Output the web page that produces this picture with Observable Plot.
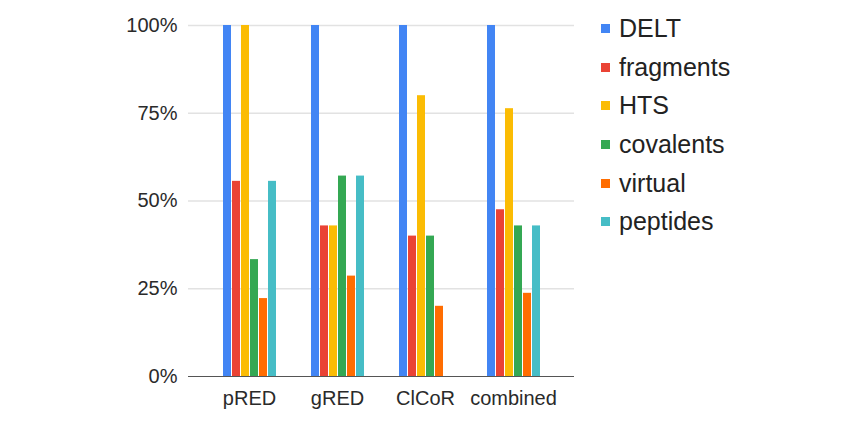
<!DOCTYPE html>
<html>
<head>
<meta charset="utf-8">
<script src="https://cdn.jsdelivr.net/npm/d3@7"></script>
<script src="https://cdn.jsdelivr.net/npm/@observablehq/plot@0.6"></script>
<style>
  html, body { margin: 0; padding: 0; background: #fff; }
  #wrap { position: relative; width: 865px; height: 435px; font-family: "Liberation Sans", Arial, sans-serif; }
  #back, #front { position: absolute; left: 0; top: 0; }
  #legend { position: absolute; left: 601px; top: 9px; color: #222; font-size: 25px; }
  .item { display: flex; align-items: center; height: 38.7px; }
  .sw { width: 9px; height: 9px; margin-right: 9px; }
</style>
</head>
<body>
<div id="wrap"><div id="back"></div><div id="front"></div><div id="legend"></div></div>
<script>
const groups = ["pRED", "gRED", "ClCoR", "combined"];
const series = ["DELT", "fragments", "HTS", "covalents", "virtual", "peptides"];
const colors = ["#4285F4", "#EA4335", "#FBBC04", "#34A853", "#FF6D01", "#46BDC6"];
const DELT      = [1.000, 1.000, 1.000, 1.000];
const fragments = [0.556, 0.429, 0.400, 0.475];
const HTS       = [1.000, 0.429, 0.800, 0.763];
const covalents = [0.333, 0.571, 0.400, 0.429];
const virtual   = [0.222, 0.286, 0.200, 0.237];
const peptides  = [0.556, 0.571, 0.000, 0.429];
const yTicks = [0, 0.25, 0.5, 0.75, 1];

const valuesBySeries = [DELT, fragments, HTS, covalents, virtual, peptides];
const data = [];
groups.forEach((g, gi) => {
  series.forEach((s, si) => {
    data.push({group: g, series: s, value: valuesBySeries[si][gi]});
  });
});

const common = {
  width: 865,
  height: 435,
  marginLeft: 188,
  marginRight: 291,
  marginTop: 25,
  marginBottom: 59,
  style: {fontSize: "20px", fontFamily: "'Liberation Sans', Arial, sans-serif", color: "#2a2a2a", background: "transparent"}
};

// background: y axis, gridlines spanning the full frame
const back = Plot.plot({
  ...common,
  x: {domain: [0, 1], axis: null},
  y: {domain: [0, 1], ticks: yTicks, tickFormat: d3.format(".0%"), label: null, tickSize: 0, tickPadding: 11},
  marks: [
    Plot.ruleY(yTicks.filter(d => d > 0), {stroke: "#e2e2e2", strokeWidth: 1.5})
  ]
});
document.getElementById("back").appendChild(back);

// foreground: grouped bars with category labels
const front = Plot.plot({
  ...common,
  fx: {domain: groups, paddingInner: 0, paddingOuter: 0.181, label: null, axis: "bottom", tickSize: 0, tickPadding: 14},
  x: {domain: series, axis: null, paddingInner: 0.16, paddingOuter: 1.74},
  y: {domain: [0, 1], axis: null},
  color: {domain: series, range: colors},
  marks: [
    Plot.barY(data, {fx: "group", x: "series", y: "value", fill: "series"})
  ]
});
document.getElementById("front").appendChild(front);

// baseline on top
const base = Plot.plot({
  ...common,
  x: {domain: [0, 1], axis: null},
  y: {domain: [0, 1], axis: null},
  marks: [Plot.ruleY([0], {stroke: "#555", strokeWidth: 1.2})]
});
base.style.position = "absolute";
base.style.left = "0px";
base.style.top = "0px";
document.getElementById("front").appendChild(base);

const legend = document.getElementById("legend");
series.forEach((s, i) => {
  const item = document.createElement("div");
  item.className = "item";
  const sw = document.createElement("span");
  sw.className = "sw";
  sw.style.background = colors[i];
  const label = document.createElement("span");
  label.textContent = s;
  item.appendChild(sw);
  item.appendChild(label);
  legend.appendChild(item);
});
</script>
</body>
</html>
